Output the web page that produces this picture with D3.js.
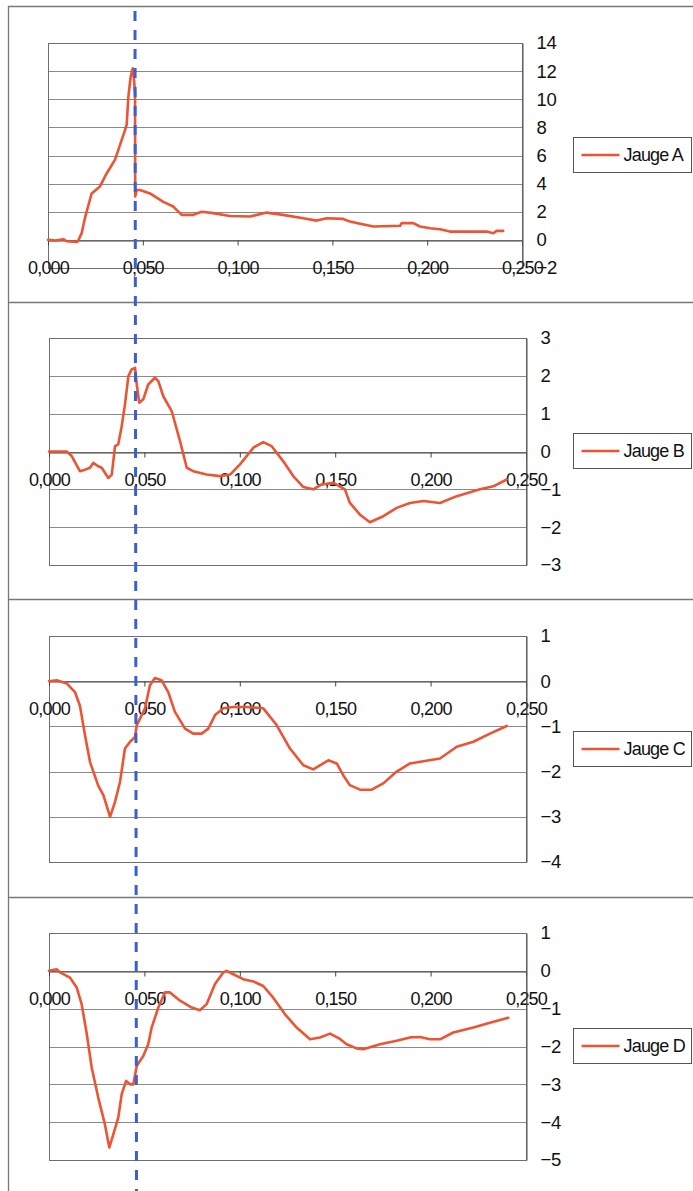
<!DOCTYPE html>
<html>
<head>
<meta charset="utf-8">
<script src="https://cdn.jsdelivr.net/npm/d3@7"></script>
<style>
  html, body { margin: 0; padding: 0; background: #fff; }
  svg { display: block; }
  text { font-family: "Liberation Sans", Arial, sans-serif; fill: #111; }
</style>
</head>
<body>
<svg id="chart" width="693" height="1191"></svg>
<script>
// ---- Data ----
const xTickValues = [0, 0.05, 0.10, 0.15, 0.20, 0.25];
const xTickLabels = ["0,000", "0,050", "0,100", "0,150", "0,200", "0,250"];

const jaugeA_x = [0, 0.004, 0.008, 0.010, 0.015, 0.0158, 0.0178, 0.0195, 0.023, 0.0274, 0.031, 0.0353, 0.0371, 0.0406, 0.0415, 0.0424, 0.0436, 0.0447, 0.0454, 0.0459, 0.0460, 0.0468, 0.0485, 0.0538, 0.0608, 0.0661, 0.0705, 0.0766, 0.081, 0.0872, 0.096, 0.1065, 0.1153, 0.124, 0.1347, 0.1417, 0.147, 0.1557, 0.1593, 0.1646, 0.1716, 0.1857, 0.1865, 0.1927, 0.1962, 0.2015, 0.2068, 0.212, 0.2314, 0.2349, 0.2366, 0.2401];
const jaugeA_y = [0, -0.05, 0.05, -0.1, -0.15, -0.1, 0.5, 1.56, 3.3, 3.8, 4.74, 5.69, 6.4, 7.8, 8.2, 10.2, 11.6, 12.2, 11.4, 10.4, 3.08, 3.55, 3.55, 3.3, 2.7, 2.37, 1.78, 1.78, 2.0, 1.9, 1.7, 1.66, 1.94, 1.78, 1.54, 1.37, 1.54, 1.49, 1.3, 1.14, 0.95, 1.0, 1.19, 1.19, 0.95, 0.83, 0.76, 0.59, 0.59, 0.47, 0.64, 0.64];

const jaugeB_x = [0, 0.0093, 0.0119, 0.0162, 0.0189, 0.0215, 0.0232, 0.0258, 0.0276, 0.0311, 0.0329, 0.0346, 0.0363, 0.0381, 0.0398, 0.0416, 0.0433, 0.0451, 0.046, 0.0473, 0.0494, 0.052, 0.0555, 0.0573, 0.0599, 0.0643, 0.0687, 0.0722, 0.0756, 0.0826, 0.0896, 0.0949, 0.1001, 0.1071, 0.1123, 0.1167, 0.1228, 0.128, 0.1333, 0.1385, 0.1429, 0.149, 0.1551, 0.1577, 0.163, 0.1682, 0.1752, 0.1822, 0.1892, 0.1962, 0.2049, 0.2137, 0.2259, 0.2329, 0.2399];
const jaugeB_y = [0, 0, -0.12, -0.52, -0.48, -0.43, -0.3, -0.39, -0.43, -0.7, -0.61, 0.14, 0.19, 0.67, 1.24, 1.99, 2.17, 2.21, 1.77, 1.29, 1.38, 1.77, 1.95, 1.86, 1.46, 1.07, 0.27, -0.43, -0.52, -0.61, -0.65, -0.61, -0.34, 0.1, 0.25, 0.14, -0.26, -0.65, -0.94, -1.0, -0.87, -0.83, -1.0, -1.36, -1.67, -1.87, -1.71, -1.49, -1.36, -1.31, -1.36, -1.18, -1.0, -0.92, -0.74];

const jaugeC_x = [0, 0.004, 0.0093, 0.0136, 0.0162, 0.0189, 0.0215, 0.0258, 0.0285, 0.032, 0.0346, 0.0372, 0.0398, 0.0425, 0.0451, 0.046, 0.0477, 0.0503, 0.0529, 0.0555, 0.059, 0.0625, 0.066, 0.0713, 0.0756, 0.08, 0.0835, 0.087, 0.0914, 0.0966, 0.1036, 0.1123, 0.1193, 0.1263, 0.1333, 0.1385, 0.1464, 0.1508, 0.1545, 0.1577, 0.163, 0.1691, 0.1752, 0.1822, 0.1892, 0.1962, 0.2049, 0.2137, 0.2224, 0.2311, 0.2399];
const jaugeC_y = [0, 0.02, -0.05, -0.24, -0.54, -1.2, -1.79, -2.31, -2.52, -3.0, -2.67, -2.23, -1.49, -1.34, -1.23, -0.97, -0.83, -0.6, -0.09, 0.07, 0.02, -0.24, -0.68, -1.05, -1.16, -1.16, -1.05, -0.75, -0.6, -0.57, -0.57, -0.6, -0.97, -1.49, -1.86, -1.95, -1.75, -1.82, -2.1, -2.3, -2.4, -2.4, -2.26, -2.0, -1.82, -1.77, -1.71, -1.45, -1.34, -1.16, -0.99];

const jaugeD_x = [0, 0.004, 0.0058, 0.011, 0.0145, 0.0171, 0.0198, 0.0224, 0.0258, 0.0293, 0.0316, 0.0337, 0.0363, 0.0381, 0.0404, 0.0425, 0.0442, 0.046, 0.0494, 0.052, 0.0538, 0.0573, 0.0608, 0.0634, 0.0687, 0.0748, 0.0791, 0.0826, 0.087, 0.0914, 0.0931, 0.0966, 0.1018, 0.1071, 0.1123, 0.1175, 0.1237, 0.1298, 0.1368, 0.142, 0.1473, 0.1525, 0.156, 0.1612, 0.1647, 0.1735, 0.1822, 0.1892, 0.1944, 0.1997, 0.2049, 0.2119, 0.2224, 0.2311, 0.2407];
const jaugeD_y = [0, 0.04, -0.04, -0.18, -0.44, -0.88, -1.67, -2.56, -3.35, -4.06, -4.67, -4.32, -3.88, -3.26, -2.91, -3.0, -3.0, -2.51, -2.25, -1.94, -1.5, -0.97, -0.57, -0.57, -0.79, -0.97, -1.04, -0.88, -0.35, -0.04, 0, -0.09, -0.22, -0.28, -0.4, -0.71, -1.15, -1.5, -1.81, -1.76, -1.66, -1.8, -1.94, -2.05, -2.07, -1.94, -1.85, -1.76, -1.75, -1.81, -1.81, -1.63, -1.5, -1.37, -1.24];

const seriesNames = ["Jauge A", "Jauge B", "Jauge C", "Jauge D"];
const yTicksA = [-2, 0, 2, 4, 6, 8, 10, 12, 14];
const yTicksB = [-3, -2, -1, 0, 1, 2, 3];
const yTicksC = [-4, -3, -2, -1, 0, 1];
const yTicksD = [-5, -4, -3, -2, -1, 0, 1];

// ---- Layout ----
const panels = [
  { name: seriesNames[0], xs: jaugeA_x, ys: jaugeA_y, ticks: yTicksA, left: 48, right: 522, top: 43, bottom: 268, legTop: 137 },
  { name: seriesNames[1], xs: jaugeB_x, ys: jaugeB_y, ticks: yTicksB, left: 49, right: 526, top: 338, bottom: 565, legTop: 433 },
  { name: seriesNames[2], xs: jaugeC_x, ys: jaugeC_y, ticks: yTicksC, left: 49, right: 526, top: 636, bottom: 862, legTop: 731 },
  { name: seriesNames[3], xs: jaugeD_x, ys: jaugeD_y, ticks: yTicksD, left: 49, right: 526, top: 933, bottom: 1160, legTop: 1028 }
];
const separators = [6, 302, 599, 897];

const svg = d3.select("#chart");
const lineColor = "#ec5433";

// outer frame
svg.append("line").attr("x1", 8.5).attr("x2", 8.5).attr("y1", 6).attr("y2", 1191)
  .attr("stroke", "#777").attr("stroke-width", 1.3);
separators.forEach(y => {
  svg.append("line").attr("x1", 8).attr("x2", 693).attr("y1", y + 0.5).attr("y2", y + 0.5)
    .attr("stroke", "#777").attr("stroke-width", 1.3);
});

panels.forEach(p => {
  const yDom = d3.extent(p.ticks);
  const x = d3.scaleLinear().domain([0, 0.25]).range([p.left, p.right]);
  const y = d3.scaleLinear().domain(yDom).range([p.bottom, p.top]);
  const g = svg.append("g");

  // gridlines
  g.append("g").selectAll("line").data(p.ticks).join("line")
    .attr("x1", p.left).attr("x2", p.right)
    .attr("y1", d => Math.round(y(d)) + 0.5).attr("y2", d => Math.round(y(d)) + 0.5)
    .attr("stroke", "#8a8a8a").attr("stroke-width", 1);

  // plot area border
  g.append("rect").attr("x", p.left + 0.5).attr("y", Math.round(p.top) + 0.5)
    .attr("width", p.right - p.left).attr("height", Math.round(p.bottom) - Math.round(p.top))
    .attr("fill", "none").attr("stroke", "#6f6f6f").attr("stroke-width", 1);

  // x axis at zero
  const xAxis = d3.axisBottom(x).tickValues(xTickValues)
    .tickFormat((d, i) => xTickLabels[i]).tickSizeInner(5).tickSizeOuter(0).tickPadding(16);
  const xa = g.append("g").attr("transform", `translate(0,${Math.round(y(0)) + 0.5})`).call(xAxis);
  xa.select(".domain").attr("stroke", "#444");
  xa.selectAll(".tick line").attr("stroke", "#444");
  xa.selectAll("text").attr("font-size", 18).attr("letter-spacing", "-0.8px")
    .attr("font-family", "'Liberation Sans', Arial, sans-serif").attr("fill", "#111");

  // y axis on right
  const yAxis = d3.axisRight(y).tickValues(p.ticks).tickFormat(d3.format("d"))
    .tickSize(0).tickPadding(14);
  const ya = g.append("g").attr("transform", `translate(${p.right + 0.5},0)`).call(yAxis);
  ya.select(".domain").attr("stroke", "#555");
  ya.selectAll("text").attr("font-size", 18.5).attr("letter-spacing", "-0.3px")
    .attr("font-family", "'Liberation Sans', Arial, sans-serif").attr("fill", "#111");

  // series line
  const pts = p.xs.map((xv, i) => [xv, p.ys[i]]);
  g.append("path").datum(pts)
    .attr("fill", "none").attr("stroke", lineColor).attr("stroke-width", 2.6)
    .attr("stroke-linejoin", "round").attr("stroke-linecap", "round")
    .attr("d", d3.line().x(d => x(d[0])).y(d => y(d[1])));

  // legend
  const lg = g.append("g").attr("transform", `translate(573.5,${p.legTop + 0.5})`);
  lg.append("rect").attr("width", 118).attr("height", 35)
    .attr("fill", "#fff").attr("stroke", "#555").attr("stroke-width", 1);
  lg.append("line").attr("x1", 8).attr("x2", 46).attr("y1", 17.5).attr("y2", 17.5)
    .attr("stroke", lineColor).attr("stroke-width", 2.6);
  lg.append("text").attr("x", 50).attr("y", 17.5).attr("dy", "0.35em")
    .attr("font-size", 18).attr("letter-spacing", "-0.8px").text(p.name);
});

// blue dashed marker line
svg.append("line").attr("x1", 135).attr("y1", 11).attr("x2", 136.5).attr("y2", 1191)
  .attr("stroke", "#3b5fd0").attr("stroke-width", 3).attr("stroke-dasharray", "10,9");
</script>
</body>
</html>
